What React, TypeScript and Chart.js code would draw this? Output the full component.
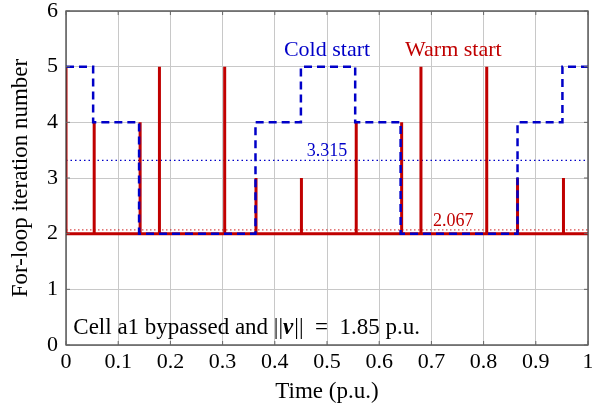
import React, { useEffect, useRef } from "react";
import { Chart, registerables } from "chart.js";

Chart.register(...registerables);

// Cold start: iteration count held from each switching instant
const coldX = [0, 0.052, 0.14, 0.363, 0.45, 0.554, 0.641, 0.865, 0.951, 1];
const coldY = [5, 4, 2, 4, 5, 4, 2, 4, 5, 5];

// Warm start: base iteration count with short spikes
const warmBase = 2;
const warmX = [0, 0.054, 0.142, 0.179, 0.304, 0.364, 0.451, 0.556, 0.643, 0.68, 0.806, 0.865, 0.953];
const warmPeak = [5, 4, 4, 5, 5, 3, 3, 4, 4, 5, 5, 3, 3];

const coldMean = 3.315;
const warmMean = 2.067;

const xTicks = [0, 0.1, 0.2, 0.3, 0.4, 0.5, 0.6, 0.7, 0.8, 0.9, 1];
const yTicks = [0, 1, 2, 3, 4, 5, 6];

const BLUE = "#0000c8";
const RED = "#c00000";
const SERIF = "'Liberation Serif', 'Times New Roman', serif";

export default function App() {
  const ref = useRef<HTMLCanvasElement | null>(null);

  useEffect(() => {
    if (!ref.current) return;

    const coldData = coldX.map((x, i) => ({ x, y: coldY[i] }));
    const warmData: { x: number; y: number }[] = [];
    warmX.forEach((x, i) => {
      warmData.push({ x, y: warmBase });
      warmData.push({ x, y: warmPeak[i] });
      warmData.push({ x, y: warmBase });
    });
    warmData.push({ x: 1, y: warmBase });

    const overlay = {
      id: "overlay",
      afterDraw(chart: any) {
        const { ctx, chartArea: a, scales } = chart;
        const xs = scales.x;
        const ys = scales.y;
        ctx.save();
        // frame
        ctx.strokeStyle = "#444";
        ctx.lineWidth = 1.3;
        ctx.strokeRect(a.left, a.top, a.right - a.left, a.bottom - a.top);
        // inward ticks
        ctx.lineWidth = 1;
        ctx.strokeStyle = "#666";
        const tl = 4;
        xTicks.forEach((v) => {
          const px = xs.getPixelForValue(v);
          ctx.beginPath();
          ctx.moveTo(px, a.bottom);
          ctx.lineTo(px, a.bottom - tl);
          ctx.moveTo(px, a.top);
          ctx.lineTo(px, a.top + tl);
          ctx.stroke();
        });
        yTicks.forEach((v) => {
          const py = ys.getPixelForValue(v);
          ctx.beginPath();
          ctx.moveTo(a.left, py);
          ctx.lineTo(a.left + tl, py);
          ctx.moveTo(a.right, py);
          ctx.lineTo(a.right - tl, py);
          ctx.stroke();
        });
        // text labels
        ctx.textBaseline = "middle";
        ctx.textAlign = "center";
        ctx.font = `22px ${SERIF}`;
        ctx.fillStyle = BLUE;
        ctx.fillText("Cold start", xs.getPixelForValue(0.5), ys.getPixelForValue(5.3));
        ctx.fillStyle = RED;
        ctx.fillText("Warm start", xs.getPixelForValue(0.742), ys.getPixelForValue(5.3));
        ctx.font = `18px ${SERIF}`;
        ctx.fillStyle = BLUE;
        ctx.fillText(coldMean.toFixed(3), xs.getPixelForValue(0.5), ys.getPixelForValue(3.48));
        ctx.fillStyle = RED;
        ctx.fillText(warmMean.toFixed(3), xs.getPixelForValue(0.742), ys.getPixelForValue(2.22));
        // annotation
        ctx.textAlign = "left";
        ctx.fillStyle = "#000";
        let x = xs.getPixelForValue(0.014);
        const y = ys.getPixelForValue(0.31);
        const parts: [string, string][] = [
          ["Cell a1 bypassed and ||", `23px ${SERIF}`],
          ["\u03bd", `italic bold 23px ${SERIF}`],
          ["||  =  1.85 p.u.", `23px ${SERIF}`],
        ];
        parts.forEach(([t, f]) => {
          ctx.font = f;
          ctx.fillText(t, x, y);
          x += ctx.measureText(t).width + (t === "\u03bd" ? 1 : 0);
        });
        ctx.restore();
      },
    };

    const chart = new Chart(ref.current, {
      type: "line",
      data: {
        datasets: [
          {
            label: "Cold start",
            data: coldData,
            borderColor: BLUE,
            borderWidth: 2.5,
            borderDash: [8, 5],
            stepped: true,
            pointRadius: 0,
            fill: false,
            order: 0,
          },
          {
            label: "Warm start",
            data: warmData,
            borderColor: RED,
            borderWidth: 3,
            pointRadius: 0,
            fill: false,
            order: 1,
          },
          {
            label: "cold mean",
            data: [
              { x: 0, y: coldMean },
              { x: 1, y: coldMean },
            ],
            borderColor: BLUE,
            borderWidth: 1.2,
            borderDash: [1.5, 3],
            pointRadius: 0,
            order: 2,
          },
          {
            label: "warm mean",
            data: [
              { x: 0, y: warmMean },
              { x: 1, y: warmMean },
            ],
            borderColor: "rgba(200,0,0,0.7)",
            borderWidth: 1.2,
            borderDash: [1.5, 2.5],
            pointRadius: 0,
            order: 3,
          },
        ],
      },
      options: {
        animation: false,
        responsive: true,
        maintainAspectRatio: false,
        layout: { padding: { top: 11, right: 4, left: 0, bottom: 0 } },
        plugins: { legend: { display: false }, tooltip: { enabled: false } },
        scales: {
          x: {
            type: "linear",
            min: 0,
            max: 1,
            afterFit: (s: any) => {
              s.height = 61;
              s.paddingLeft = 0;
              s.paddingRight = 0;
            },
            afterBuildTicks: (s: any) => {
              s.ticks = xTicks.map((v) => ({ value: v }));
            },
            ticks: {
              padding: 4,
              color: "#000",
              font: { family: SERIF, size: 22 },
              callback: (v: any) => (v === 0 || v === 1 ? String(v) : Number(v).toFixed(1)),
            },
            grid: { color: "#c8c8c8", lineWidth: 1, drawTicks: false },
            border: { display: false },
            title: {
              display: true,
              text: "Time (p.u.)",
              color: "#000",
              font: { family: SERIF, size: 23 },
              padding: { top: 0, bottom: 0 },
            },
          },
          y: {
            type: "linear",
            min: 0,
            max: 6,
            afterFit: (s: any) => {
              s.width = 66;
              s.paddingTop = 0;
              s.paddingBottom = 0;
            },
            afterBuildTicks: (s: any) => {
              s.ticks = yTicks.map((v) => ({ value: v }));
            },
            ticks: {
              padding: 8,
              color: "#000",
              font: { family: SERIF, size: 22 },
            },
            grid: { color: "#c8c8c8", lineWidth: 1, drawTicks: false },
            border: { display: false },
            title: {
              display: true,
              text: "For-loop iteration number",
              color: "#000",
              font: { family: SERIF, size: 23 },
              padding: { top: 7, bottom: 0 },
            },
          },
        },
      },
      plugins: [overlay],
    });
    return () => chart.destroy();
  }, []);

  return (
    <div style={{ position: "absolute", left: 0, top: 0, width: 592, height: 406 }}>
      <canvas ref={ref} />
    </div>
  );
}
